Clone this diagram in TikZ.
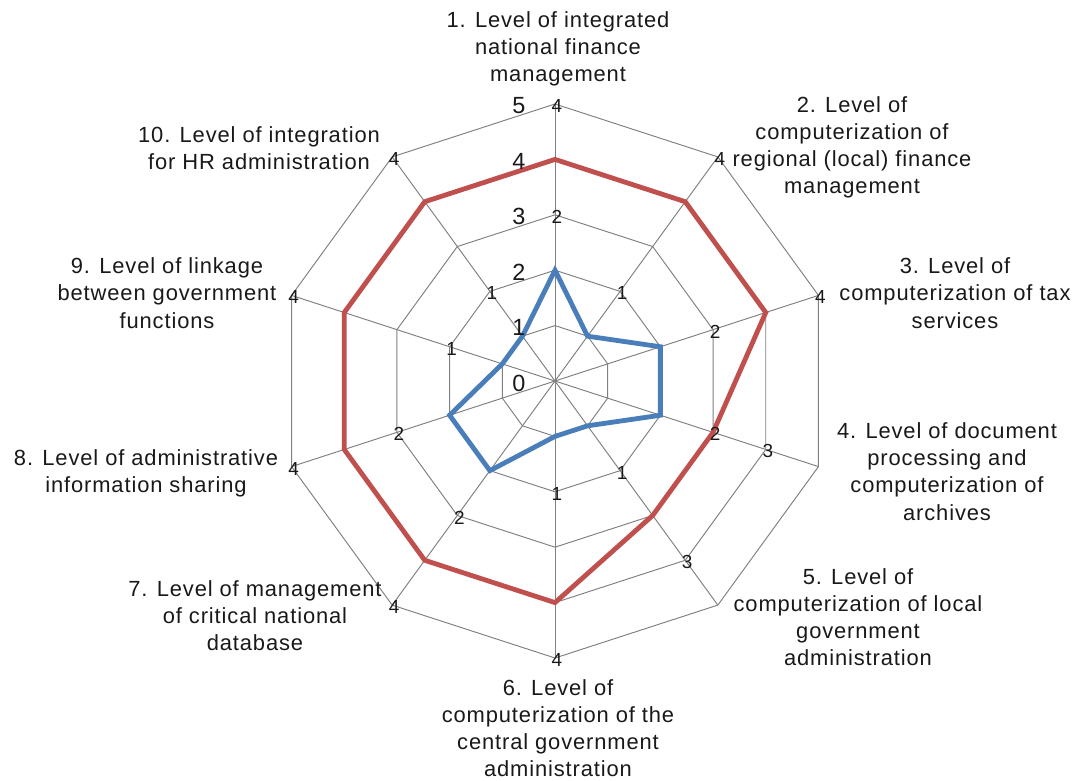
\documentclass[tikz,border=0pt]{standalone}
\usepackage{fontspec}
\setmainfont{Liberation Sans}
\usetikzlibrary{calc}
\definecolor{gridc}{RGB}{128,128,128}
\definecolor{redc}{RGB}{192,80,77}
\definecolor{bluec}{RGB}{74,126,187}
\definecolor{txtc}{RGB}{25,25,25}
\tikzset{
  gridline/.style={draw=gridc, line width=0.95bp},
  redser/.style={draw=redc, line width=4.8bp, line join=miter},
  bluser/.style={draw=bluec, line width=4.8bp, line join=miter},
  axlab/.style={text=txtc, align=center, inner sep=0pt,
     font=\addfontfeatures{LetterSpace=4}\fontsize{22}{27.3}\selectfont},
  scalelab/.style={text=txtc, inner sep=0pt, font=\fontsize{23.5}{26}\selectfont},
  datalab/.style={text=txtc, inner sep=0pt, font=\fontsize{19}{20}\selectfont}
}
\begin{document}
\begin{tikzpicture}[x=1bp,y=-1bp]
\useasboundingbox[fill=white] (0,0) rectangle (1080,781);
\begin{scope}[shift={(555,381)}]
  % rings
  \foreach \k in {1,...,5}{
    \draw[gridline] (-90:\k*55.4) \foreach \a in {-54,-18,18,54,90,126,162,198,234}{ -- (\a:\k*55.4) } -- cycle;
  }
  % spokes
  \coordinate (ctr) at (0,0);
  \foreach \a [count=\i] in {-90,-54,-18,18,54,90,126,162,198,234}{
    \coordinate (ax\i) at (\a:277);
    \draw[gridline] (ctr) -- (ax\i);
  }
  % series points
  \foreach \a/\rv/\bv [count=\i] in {-90/4/2,-54/4/1,-18/4/2,18/3/2,54/3/1,90/4/1,126/4/2,162/4/2,198/4/1,234/4/1}{
    \coordinate (r\i) at (\a:\rv*55.4);
    \coordinate (b\i) at (\a:\bv*55.4);
  }
  \draw[bluser] (b1) -- (b2) -- (b3) -- (b4) -- (b5) -- (b6) -- (b7) -- (b8) -- (b9) -- (b10) -- cycle;
  \draw[redser] (r1) -- (r2) -- (r3) -- (r4) -- (r5) -- (r6) -- (r7) -- (r8) -- (r9) -- (r10) -- cycle;
  \foreach \a/\rv/\bv [count=\i] in {-90/4/2,-54/4/1,-18/4/2,18/3/2,54/3/1,90/4/1,126/4/2,162/4/2,198/4/1,234/4/1}{
    \node[datalab] (rl\i) at ($(\a:\rv*55.4+55.4)+(2,2)$) {\rv};
    \node[datalab] (bl\i) at ($(\a:\bv*55.4+55.4)+(2,2)$) {\bv};
  }
  % scale labels
  \foreach \k in {0,...,5}{
    \node[scalelab] (s\k) at (-36,-\k*55.4+2) {\k};
  }
\end{scope}
% axis labels
\node[axlab] (l1) at (558,49) {1. Level of integrated\\national finance\\management};
\node[axlab] (l2) at (852,147.5) {2. Level of\\computerization of\\regional (local) finance\\management};
\node[axlab] (l3) at (955,293) {3. Level of\\computerization of tax\\services};
\node[axlab] (l4) at (947,471.5) {4. Level of document\\processing and\\computerization of\\archives};
\node[axlab] (l5) at (858,617) {5. Level of\\computerization of local\\government\\administration};
\node[axlab] (l6) at (558,728) {6. Level of\\computerization of the\\central government\\administration};
\node[axlab] (l7) at (255,615.5) {7. Level of management\\of critical national\\database};
\node[axlab] (l8) at (146,473) {8. Level of administrative\\information sharing};
\node[axlab] (l9) at (167,293) {9. Level of linkage\\between government\\functions};
\node[axlab] (l10) at (259,148) {10. Level of integration\\for HR administration};
\end{tikzpicture}
\end{document}
